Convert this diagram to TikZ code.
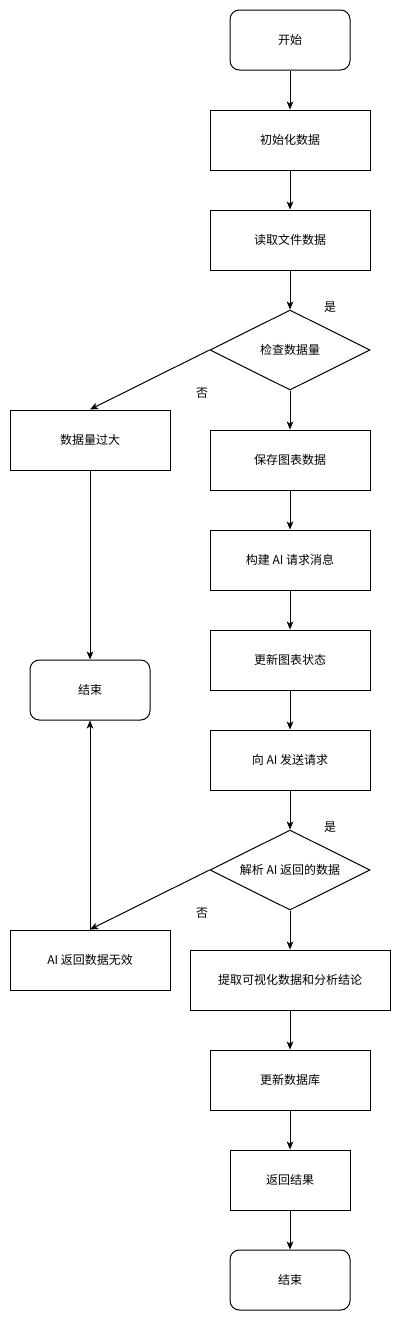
\documentclass[tikz,border=0pt]{standalone}
\usepackage{fontspec}
\setmainfont{Noto Sans CJK SC}
\usetikzlibrary{shapes.geometric,arrows.meta}
\begin{document}
\begin{tikzpicture}[x=0.75pt,y=-0.75pt,
  every node/.style={font=\fontsize{9pt}{11pt}\selectfont, inner sep=0pt},
  box/.style={draw, line width=0.75pt, minimum width=120pt, minimum height=45pt},
  widebox/.style={box, minimum width=150pt},
  term/.style={draw, line width=0.75pt, rounded corners=7pt, minimum width=90pt, minimum height=45pt},
  dec/.style={draw, line width=0.75pt, diamond, aspect=2, minimum width=120pt, minimum height=60pt},
  lbl/.style={font=\fontsize{9pt}{11pt}\selectfont},
  arr/.style={draw, line width=0.75pt, -{Stealth[length=6pt,width=5pt,inset=1.5pt]}}
]
\useasboundingbox (0,0) rectangle (401,1321);
\node[term] (start) at (290,40) {开始};
\node[box] (init) at (290,140) {初始化数据};
\node[box] (read) at (290,240) {读取文件数据};
\node[dec] (d1) at (290,350) {检查数据量};
\node[box] (big) at (90,440) {数据量过大};
\node[box] (save) at (290,460) {保存图表数据};
\node[box] (build) at (290,560) {构建 AI 请求消息};
\node[box] (upd) at (290,660) {更新图表状态};
\node[box] (send) at (290,760) {向 AI 发送请求};
\node[dec] (d2) at (290,870) {解析 AI 返回的数据};
\node[term] (end1) at (90,690) {结束};
\node[box] (invalid) at (90,960) {AI 返回数据无效};
\node[widebox] (extract) at (290,980) {提取可视化数据和分析结论};
\node[box] (db) at (290,1080) {更新数据库};
\node[term, rounded corners=0pt, minimum width=90pt] (ret) at (290,1180) {返回结果};
\node[term] (end2) at (290,1280) {结束};
\node[lbl] (y1) at (330,307) {是};
\node[lbl] (n1) at (202,393) {否};
\node[lbl] (y2) at (330,827) {是};
\node[lbl] (n2) at (202,913) {否};
\path[arr] (start.south) -- (init.north);
\path[arr] (init.south) -- (read.north);
\path[arr] (read.south) -- (d1.north);
\path[arr] (d1.west) -- (big.north);
\path[arr] (d1.south) -- (save.north);
\path[arr] (big.south) -- (end1.north);
\path[arr] (save.south) -- (build.north);
\path[arr] (build.south) -- (upd.north);
\path[arr] (upd.south) -- (send.north);
\path[arr] (send.south) -- (d2.north);
\path[arr] (d2.west) -- (invalid.north);
\path[arr] (invalid.north) -- (end1.south);
\path[arr] (d2.south) -- (extract.north);
\path[arr] (extract.south) -- (db.north);
\path[arr] (db.south) -- (ret.north);
\path[arr] (ret.south) -- (end2.north);
\end{tikzpicture}
\end{document}
